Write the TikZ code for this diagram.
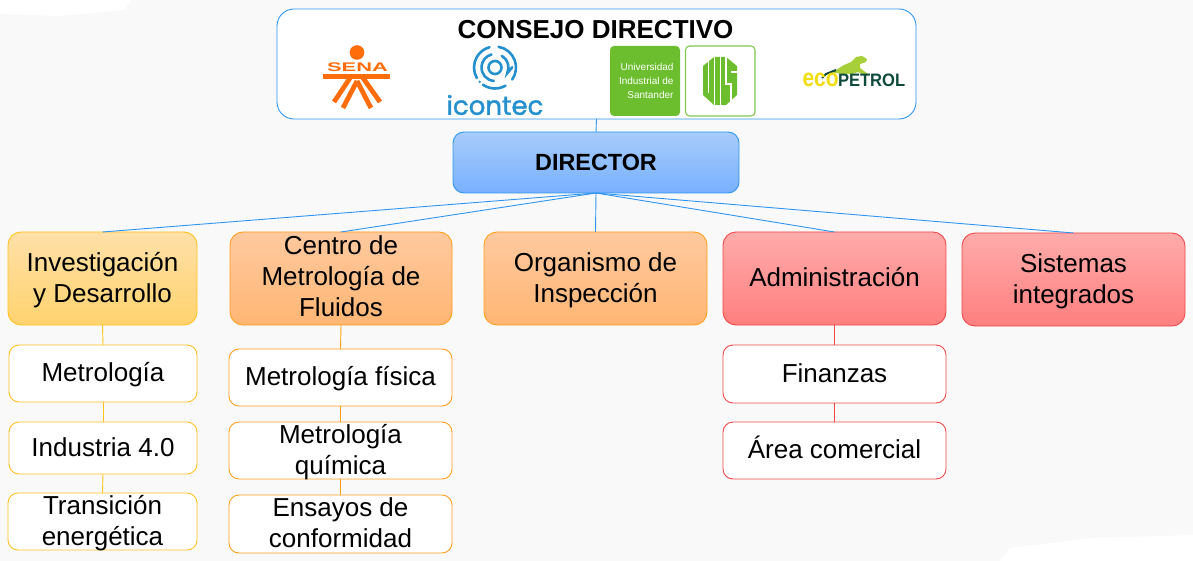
\documentclass[tikz,border=0pt]{standalone}
\usepackage{fontspec}
\setmainfont{Liberation Sans}
\newfontfamily\logofont[FakeBold=1.5]{Poppins}
\definecolor{pagebg}{HTML}{F9F9F9}
\definecolor{blueline}{HTML}{2F96F0}
\definecolor{yelline}{HTML}{FFC31F}
\definecolor{orgline}{HTML}{FF9F1C}
\definecolor{redline}{HTML}{F04848}
\definecolor{senaor}{HTML}{FF6D0A}
\definecolor{icoblue}{HTML}{2490CE}
\definecolor{uisgreen}{HTML}{6CBE2E}
\definecolor{ecoyel}{HTML}{F2DE10}
\definecolor{ecodark}{HTML}{0F4A3C}
\definecolor{ecolime}{HTML}{A6CF3A}
\definecolor{FFE0A8c}{HTML}{FFE0A8}
\definecolor{FFD36Ec}{HTML}{FFD36E}
\definecolor{FFC99Fc}{HTML}{FFC99F}
\definecolor{FFB674c}{HTML}{FFB674}
\definecolor{FFABABc}{HTML}{FFABAB}
\definecolor{FF7F7Fc}{HTML}{FF7F7F}
\definecolor{A8CCFAc}{HTML}{A8CCFA}
\definecolor{78B0FFc}{HTML}{78B0FF}
% lines of text placed by baseline about the node centre, so the box keeps its size
\newcommand\lblat[2]{\makebox[0pt]{\raisebox{#1}[0pt][0pt]{#2}}}
\newcommand\lblone[1]{\lblat{-8.25pt}{#1}}
\newcommand\lbltwo[2]{\lblat{7.25pt}{#1}\lblat{-23.75pt}{#2}}
\newcommand\lblthree[3]{\lblat{24.5pt}{#1}\lblat{-6.5pt}{#2}\lblat{-37.5pt}{#3}}
\tikzset{
  cardbase/.style={rounded corners=13pt, line width=0.9pt, inner sep=0pt, outer sep=0pt,
     font=\fontsize{26}{31}\selectfont, text=black},
  yelbox/.style={cardbase, draw=yelline, top color=FFE0A8c, bottom color=FFD36Ec},
  orgbox/.style={cardbase, draw=orgline, top color=FFC99Fc, bottom color=FFB674c},
  redbox/.style={cardbase, draw=redline, top color=FFABABc, bottom color=FF7F7Fc},
  bluebox/.style={cardbase, draw=blueline, top color=A8CCFAc, bottom color=78B0FFc, rounded corners=11pt, font=\fontsize{23.4}{31}\selectfont\bfseries},
  topbox/.style={cardbase, draw=blueline, fill=white, rounded corners=17pt},
  subbase/.style={cardbase, fill=white, rounded corners=10pt},
  yelsub/.style={subbase, draw=yelline},
  orgsub/.style={subbase, draw=orgline},
  redsub/.style={subbase, draw=redline},
  linkb/.style={draw=blueline, line width=0.9pt},
  linky/.style={draw=yelline, line width=0.9pt},
  linko/.style={draw=orgline, line width=0.9pt},
  linkr/.style={draw=redline, line width=0.9pt},
  logotext/.style={inner sep=0pt, outer sep=0pt},
}
\begin{document}
\begin{tikzpicture}[x=1pt,y=-1pt]
\useasboundingbox (0,0) rectangle (1193,561);
\fill[pagebg] (0,0) rectangle (1193,561);
\fill[white] (0,0) -- (130,0) -- (125,10) -- (60,16) -- (0,14) -- cycle;
\fill[white] (1193,561) -- (1000,561) -- (1010,548) -- (1090,538) -- (1193,535) -- cycle;

% main boxes
\node[topbox, minimum width=639pt, minimum height=110pt] (consejo) at (596.5,64) {};
\node[bluebox, minimum width=286pt, minimum height=61pt] (director) at (596,162.5) {\lblone{DIRECTOR}};
\node[yelbox, minimum width=189pt, minimum height=93pt] (invest) at (102.5,278.5) {\lbltwo{Investigación}{y Desarrollo}};
\node[orgbox, minimum width=222pt, minimum height=93pt] (centro) at (341,278.5) {\lblthree{Centro de}{Metrología de}{Fluidos}};
\node[orgbox, minimum width=223pt, minimum height=93pt] (organismo) at (595.5,278.5) {\lbltwo{Organismo de}{Inspección}};
\node[redbox, minimum width=223pt, minimum height=93pt] (admin) at (834.5,278.5) {\lblone{Administración}};
\node[redbox, minimum width=223pt, minimum height=93pt] (sistemas) at (1073.5,279.5) {\lbltwo{Sistemas}{integrados}};

% sub boxes
\node[yelsub, minimum width=188pt, minimum height=57pt] (metro) at (103,373.5) {\lblone{Metrología}};
\node[yelsub, minimum width=188pt, minimum height=52pt] (indus) at (103,448) {\lblone{Industria 4.0}};
\node[yelsub, minimum width=189pt, minimum height=57pt] (trans) at (102.5,521.5) {\lbltwo{Transición}{energética}};
\node[orgsub, minimum width=223pt, minimum height=57pt] (fisica) at (340.5,377.5) {\lblone{Metrología física}};
\node[orgsub, minimum width=223pt, minimum height=57pt] (quimica) at (340.5,450.5) {\lbltwo{Metrología}{química}};
\node[orgsub, minimum width=223pt, minimum height=58pt] (ensayos) at (340.5,524) {\lbltwo{Ensayos de}{conformidad}};
\node[redsub, minimum width=223pt, minimum height=58pt] (finanzas) at (834.5,374) {\lblone{Finanzas}};
\node[redsub, minimum width=223pt, minimum height=57pt] (area) at (834.5,450.5) {\lblone{Área comercial}};

% connectors
\draw[linkb] (consejo.south) -- (director.north);
\draw[linkb] (director.south) -- (invest.north);
\draw[linkb] (director.south) -- (centro.north);
\draw[linkb] (director.south) -- (organismo.north);
\draw[linkb] (director.south) -- (admin.north);
\draw[linkb] (director.south) -- (sistemas.north);
\draw[linky] (invest.south) -- (metro.north);
\draw[linky] (metro.south) -- (indus.north);
\draw[linky] (indus.south) -- (trans.north);
\draw[linko] (centro.south) -- (fisica.north);
\draw[linko] (fisica.south) -- (quimica.north);
\draw[linko] (quimica.south) -- (ensayos.north);
\draw[linkr] (admin.south) -- (finanzas.north);
\draw[linkr] (finanzas.south) -- (area.north);

% title
\node[logotext, font=\fontsize{26}{31}\selectfont\bfseries] (titulo) at (595.5,30) {CONSEJO DIRECTIVO};

% SENA logo
\fill[senaor] (357,52.5) circle (7.3);
\node[logotext, text=senaor, font=\fontsize{12.5}{14}\selectfont\bfseries, xscale=1.75] (senatxt) at (357.5,67) {SENA};
\fill[senaor] (323,74) rectangle (390,79);
\draw[senaor, line width=4.8pt] (350,78) -- (334,102);
\draw[senaor, line width=4.8pt] (363,78) -- (380,102);
\draw[senaor, line width=4.8pt] (357,81) -- (343,108);
\draw[senaor, line width=4.8pt] (357,81) -- (371,108);

% icontec logo
\begin{scope}[icoblue, line cap=round, line width=2.6pt]
  \draw (495,67.5) circle (6.5);
  \draw (495,67.5) ++(95:13.5) arc[start angle=95, end angle=255, radius=13.5];
  \draw (495,67.5) ++(-60:13.5) arc[start angle=-60, end angle=25, radius=13.5] -- ++(5,-6);
  \draw (495,67.5) ++(60:21) arc[start angle=60, end angle=125, radius=21];
  \draw (495,67.5) ++(150:21) arc[start angle=150, end angle=255, radius=21];
  \draw (495,67.5) ++(-80:21) arc[start angle=-80, end angle=35, radius=21];
  \fill (495,67.5) ++(137:21) circle (1.3);
\end{scope}
\node[logotext, text=icoblue, font=\fontsize{26}{28}\logofont\selectfont] (icotxt) at (495,105) {icontec};

% UIS logo
\fill[uisgreen, rounded corners=4pt] (610,46) rectangle (680,116);
\node[logotext, text=white, align=right, anchor=east, font=\fontsize{10}{13.7}\selectfont] (uistxt) at (673.5,81) {Universidad\\Industrial de\\Santander};
\draw[uisgreen!85, line width=1.1pt, rounded corners=4pt] (685.5,46) rectangle (755,116);
\fill[uisgreen] (714,57) -- (726,57) -- (737,66) -- (737,95) -- (726,105) -- (714,105) -- (703,95) -- (703,66) -- cycle;
\begin{scope}[white, line width=1.1pt]
  \draw (708.5,55) -- (708.5,93);
  \draw (714.5,55) -- (714.5,107);
  \draw (720.5,55) -- (720.5,107);
  \draw (726,55) -- (726,84) -- (731,84) -- (731,107);
  \draw (731,72) -- (738,72);
\end{scope}

% Ecopetrol logo
\fill[ecolime] (867,59) -- (862,56) -- (856,57) -- (851,62) -- (844,65) -- (836,70) -- (830,72) -- (842,74) -- (852,74) -- (858,72) -- (866,76) -- (868,74) -- (860,68) -- (860,64) -- (866,62) -- cycle;
\draw[ecodark, line width=2pt] (822,78) -- (826,74) -- (836,70);
\node[logotext, text=ecodark, font=\fontsize{18}{19}\selectfont\bfseries, anchor=base west, xscale=.92] (petrol) at (838,87) {PETROL};
\node[logotext, text=ecoyel, font=\fontsize{25}{26}\selectfont\bfseries, anchor=base west, xscale=.84] (eco) at (802.5,87) {eco};
\end{tikzpicture}
\end{document}
